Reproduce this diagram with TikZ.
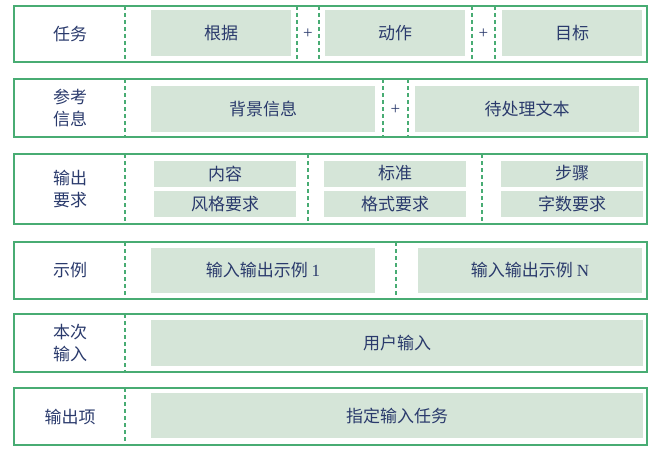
\documentclass[tikz,border=0pt]{standalone}
\usepackage{fontspec}
\setmainfont{Liberation Serif}
\newfontfamily\cjk{Noto Sans CJK SC}
\usepackage{xcolor}
\usepackage{tikz}
\usetikzlibrary{positioning}

\definecolor{rowgreen}{RGB}{72,172,115}
\definecolor{cellgreen}{RGB}{213,229,216}
\definecolor{inkblue}{RGB}{42,58,108}

\begin{document}
\begin{tikzpicture}[x=1pt, y=-1pt,
    rowbox/.style={draw=rowgreen, line width=1.3pt, minimum width=633pt, inner sep=0},
    sep/.style={draw=rowgreen, dash pattern=on 4pt off 3pt, line width=1.1pt},
    cell/.style={fill=cellgreen, text=inkblue, inner sep=0, font=\cjk\fontsize{17}{20}\selectfont},
    lbl/.style={text=inkblue, align=center, font=\cjk\fontsize{17}{22}\selectfont},
    plus/.style={text=inkblue, font=\fontsize{17}{17}\selectfont}]
    \useasboundingbox (0,0) rectangle (652,452);

    % 1. Khung các hàng
    \foreach \n/\t/\b in {r1/6/62, r2/79/137, r3/154/224, r4/242/299, r5/314/372, r6/388/445} {
        \node[rowbox, minimum height={\b-\t}] (\n) at (330.5,{(\t+\b)/2}) {};
        \draw[sep] (125,\t) -- (125,\b);
    }

    % 2. Tên hàng
    \node[lbl] (l1) at (70,34) {任务};
    \node[lbl] (l2) at (70,108) {参考\\信息};
    \node[lbl] (l3) at (70,189) {输出\\要求};
    \node[lbl] (l4) at (70,270.5) {示例};
    \node[lbl] (l5) at (70,343) {本次\\输入};
    \node[lbl] (l6) at (70,416.5) {输出项};

    % 3. Hàng 1
    \foreach \x in {297,319,472,495} {
        \draw[sep] (\x,6) -- (\x,62);
    }
    \node[cell, minimum width=140pt, minimum height=46pt] (a1) at (221,33) {根据};
    \node[cell, minimum width=140pt, minimum height=46pt] (a2) at (395,33) {动作};
    \node[cell, minimum width=140pt, minimum height=46pt] (a3) at (572,33) {目标};
    \node[plus] (p1) at (308,34) {+};
    \node[plus] (p2) at (483.5,34) {+};

    % 4. Hàng 2
    \foreach \x in {383,408} {
        \draw[sep] (\x,79) -- (\x,137);
    }
    \node[cell, minimum width=224pt, minimum height=46pt] (b1) at (263,109) {背景信息};
    \node[cell, minimum width=224pt, minimum height=46pt] (b2) at (527,109) {待处理文本};
    \node[plus] (p3) at (395.5,110) {+};

    % 5. Hàng 3
    \foreach \x in {308,482} {
        \draw[sep] (\x,154) -- (\x,224);
    }
    \node[cell, minimum width=142pt, minimum height=26pt] (c1) at (225,173.5) {内容};
    \node[cell, minimum width=142pt, minimum height=26pt, below=4pt of c1] (c2) {风格要求};
    \node[cell, minimum width=142pt, minimum height=26pt] (c3) at (395,173.5) {标准};
    \node[cell, minimum width=142pt, minimum height=26pt, below=4pt of c3] (c4) {格式要求};
    \node[cell, minimum width=142pt, minimum height=26pt] (c5) at (572,173.5) {步骤};
    \node[cell, minimum width=142pt, minimum height=26pt, below=4pt of c5] (c6) {字数要求};

    % 6. Hàng 4
    \draw[sep] (396,242) -- (396,299);
    \node[cell, minimum width=224pt, minimum height=45pt] (d1) at (263,270.5) {输入输出示例 {\rmfamily 1}};
    \node[cell, minimum width=224pt, minimum height=45pt] (d2) at (530,270.5) {输入输出示例 {\rmfamily N}};

    % 7. Hàng 5, 6
    \node[cell, minimum width=492pt, minimum height=46pt] (e1) at (397,343) {用户输入};
    \node[cell, minimum width=492pt, minimum height=45pt] (f1) at (397,415.5) {指定输入任务};
\end{tikzpicture}
\end{document}
